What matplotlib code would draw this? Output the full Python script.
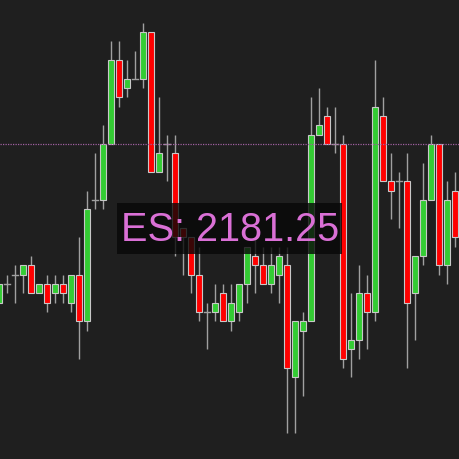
import numpy as np
import matplotlib
matplotlib.use('Agg')
import matplotlib.pyplot as plt
from matplotlib.patches import Rectangle

# OHLC prices (E-mini S&P, tick = 0.25)
last_price = 2181.25
opens = [2177.00, 2177.50, 2177.75, 2177.75, 2178.00, 2177.25, 2177.50, 2177.25, 2177.50, 2177.00,
         2177.75, 2176.50, 2179.75, 2179.75, 2181.25, 2183.50, 2182.75, 2183.00, 2183.00, 2184.25,
         2180.50, 2181.25, 2181.00, 2179.00, 2178.75, 2177.75, 2176.75, 2176.75, 2177.25, 2176.50,
         2176.75, 2177.50, 2178.25, 2178.00, 2177.50, 2177.75, 2178.00, 2175.00, 2176.25, 2176.50,
         2181.50, 2182.00, 2181.25, 2181.25, 2175.75, 2176.00, 2177.25, 2176.75, 2182.00, 2180.25,
         2180.25, 2180.25, 2177.25, 2178.25, 2179.75, 2181.25, 2178.00, 2180.00]
highs = [2177.50, 2177.75, 2178.00, 2178.00, 2178.25, 2177.50, 2177.75, 2177.75, 2177.75, 2177.75,
         2178.75, 2180.00, 2181.00, 2181.75, 2184.00, 2184.00, 2183.50, 2183.75, 2184.50, 2184.25,
         2182.50, 2181.50, 2181.50, 2179.00, 2178.75, 2178.50, 2177.00, 2177.50, 2177.50, 2177.50,
         2177.50, 2178.50, 2178.75, 2178.50, 2178.50, 2178.50, 2178.50, 2176.50, 2176.75, 2182.50,
         2182.75, 2182.25, 2182.25, 2181.50, 2177.25, 2178.00, 2177.75, 2183.50, 2182.50, 2181.00,
         2180.50, 2181.00, 2178.25, 2180.75, 2181.50, 2181.25, 2180.25, 2180.50]
lows = [2177.00, 2177.25, 2177.00, 2177.25, 2177.25, 2177.25, 2176.75, 2177.00, 2177.00, 2176.75,
        2175.50, 2176.25, 2179.50, 2179.50, 2181.25, 2182.25, 2182.50, 2183.00, 2182.75, 2180.50,
        2180.50, 2180.25, 2178.25, 2177.75, 2177.25, 2176.50, 2175.75, 2176.50, 2176.50, 2176.25,
        2176.50, 2177.00, 2177.25, 2177.50, 2177.25, 2177.00, 2173.50, 2173.50, 2174.50, 2176.50,
        2181.50, 2181.25, 2181.00, 2175.25, 2175.00, 2175.50, 2175.75, 2176.50, 2180.25, 2179.25,
        2179.00, 2175.25, 2176.00, 2178.00, 2179.75, 2177.75, 2177.50, 2178.50]
closes = [2177.50, 2177.50, 2177.75, 2178.00, 2177.25, 2177.50, 2177.00, 2177.50, 2177.25, 2177.75,
          2176.50, 2179.50, 2179.75, 2181.25, 2183.50, 2182.50, 2183.00, 2183.00, 2184.25, 2180.50,
          2181.00, 2181.25, 2178.75, 2178.75, 2177.75, 2176.75, 2176.75, 2177.00, 2176.50, 2177.00,
          2177.50, 2178.50, 2178.00, 2177.50, 2178.00, 2178.25, 2175.25, 2176.50, 2176.50, 2181.50,
          2181.75, 2181.25, 2181.25, 2175.50, 2176.00, 2177.25, 2176.75, 2182.25, 2180.25, 2180.00,
          2180.25, 2177.00, 2178.25, 2179.75, 2181.25, 2178.00, 2179.75, 2178.75]

bg = '#1f1f1f'
fig = plt.figure(figsize=(4.6, 4.6), dpi=100, facecolor=bg)
ax = fig.add_axes([0, 0, 1, 1])
ax.set_facecolor(bg)

w = 0.7
for i, (o, h, l, c) in enumerate(zip(opens, highs, lows, closes)):
    ax.plot([i, i], [l, h], color='#a0a0a0', lw=1, zorder=1, solid_capstyle='butt')
    if o == c:
        ax.plot([i - w / 2, i + w / 2], [o, o], color='#a0a0a0', lw=1, zorder=2)
        continue
    col = '#33cc33' if c > o else '#ff0000'
    ax.add_patch(Rectangle((i - w / 2, min(o, c)), w, abs(c - o), facecolor=col,
                           edgecolor='#c8c8c8', lw=0.8, zorder=2))

ax.axhline(last_price, color='#a060a0', lw=0.9, ls=(0, (1, 1)), zorder=3)

ax.set_xlim(0.125, 57.625)
ax.set_ylim(2172.81, 2185.13)
ax.axis('off')

# price label box
ax.add_patch(Rectangle((117 / 460, 1 - 255 / 460), 225 / 460, 51 / 460, transform=ax.transAxes,
                       facecolor='#080808', alpha=0.8, lw=0, zorder=4))
ax.text(230 / 460, 1 - 230 / 460, 'ES: 2181.25', transform=ax.transAxes, ha='center',
        va='center', fontsize=28.5, family='Liberation Sans', color='#da70d6', zorder=5)

fig.savefig('out.png', dpi=100, facecolor=bg)
